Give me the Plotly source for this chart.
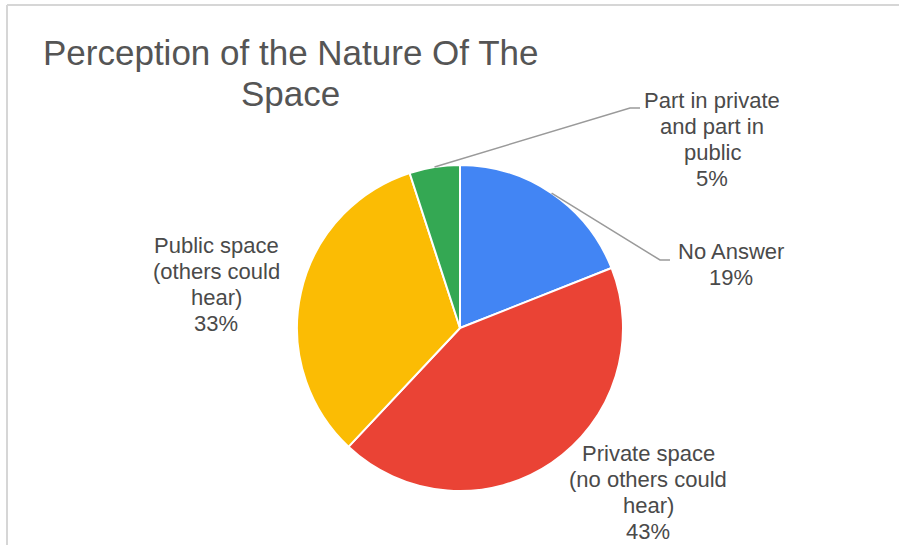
import math
import plotly.graph_objects as go

# ---- data ----
categories = ["No Answer", "Private space (no others could hear)",
              "Public space (others could hear)", "Part in private and part in public"]
values = [19, 43, 33, 5]
label_lines = [
    ["No Answer", "19%"],
    ["Private space", "(no others could", "hear)", "43%"],
    ["Public space", "(others could", "hear)", "33%"],
    ["Part in private", "and part in", "public", "5%"],
]
colors = ["#4285F4", "#EA4335", "#FBBC04", "#34A853"]
title_lines = ["Perception of the Nature Of The", "Space"]

W, H = 899, 545
CX, CY, R = 460, 328, 163

fig = go.Figure()
fig.add_trace(go.Pie(
    labels=categories, values=values, sort=False, direction="clockwise",
    rotation=0, textinfo="none", hoverinfo="label+percent",
    marker=dict(colors=colors, line=dict(color="white", width=2)),
    domain=dict(x=[(CX - R) / W, (CX + R) / W],
                y=[(H - CY - R) / H, (H - CY + R) / H]),
    showlegend=False,
))

# pixel-space overlay axes
fig.update_layout(
    width=W, height=H, margin=dict(l=0, r=0, t=0, b=0),
    paper_bgcolor="white", plot_bgcolor="rgba(0,0,0,0)",
    xaxis=dict(range=[0, W], visible=False, fixedrange=True),
    yaxis=dict(range=[H, 0], visible=False, fixedrange=True),
)

FONT = "Liberation Sans, Arial, sans-serif"
LBL_COLOR = "#4a4a4a"

# label placement (layout): center x, first-line y, and optional leader elbow
label_layout = [
    dict(x=731, y=251, elbow=(660, 260), end=(670, 260)),
    dict(x=648, y=453, elbow=None),
    dict(x=216, y=245, elbow=None),
    dict(x=712, y=100, elbow=(630, 108), end=(640, 108)),
]
LH = 26.3

total = sum(values)
cum = 0
for v, lines, lay in zip(values, label_lines, label_layout):
    mid = (cum + v / 2) / total * 2 * math.pi
    cum += v
    ax = CX + R * math.sin(mid)
    ay = CY - R * math.cos(mid)
    if lay["elbow"] is not None:
        ex, ey = lay["elbow"]
        fx, fy = lay["end"]
        fig.add_shape(type="path", xref="x", yref="y",
                      path=f"M {ax:.1f},{ay:.1f} L {ex},{ey} L {fx},{fy}",
                      line=dict(color="#9a9a9a", width=1.5))
    for i, ln in enumerate(lines):
        fig.add_annotation(x=lay["x"], y=lay["y"] + i * LH, xref="x", yref="y",
                           text=ln, showarrow=False, xanchor="center", yanchor="middle",
                           font=dict(family=FONT, size=22, color=LBL_COLOR))

for i, ln in enumerate(title_lines):
    fig.add_annotation(x=290, y=52 + i * 41, xref="x", yref="y", text=ln,
                       showarrow=False, xanchor="center", yanchor="middle",
                       font=dict(family=FONT, size=35, color="#555555"))

# chart frame
fig.add_shape(type="line", xref="x", yref="y", x0=7, y0=5, x1=W, y1=5,
              line=dict(color="#d6d6d6", width=2))
fig.add_shape(type="line", xref="x", yref="y", x0=7, y0=5, x1=7, y1=H,
              line=dict(color="#d6d6d6", width=2))

fig.write_html("out.html", config={"displayModeBar": False},
               post_script="document.body.style.margin='0';document.body.style.overflow='hidden';")
